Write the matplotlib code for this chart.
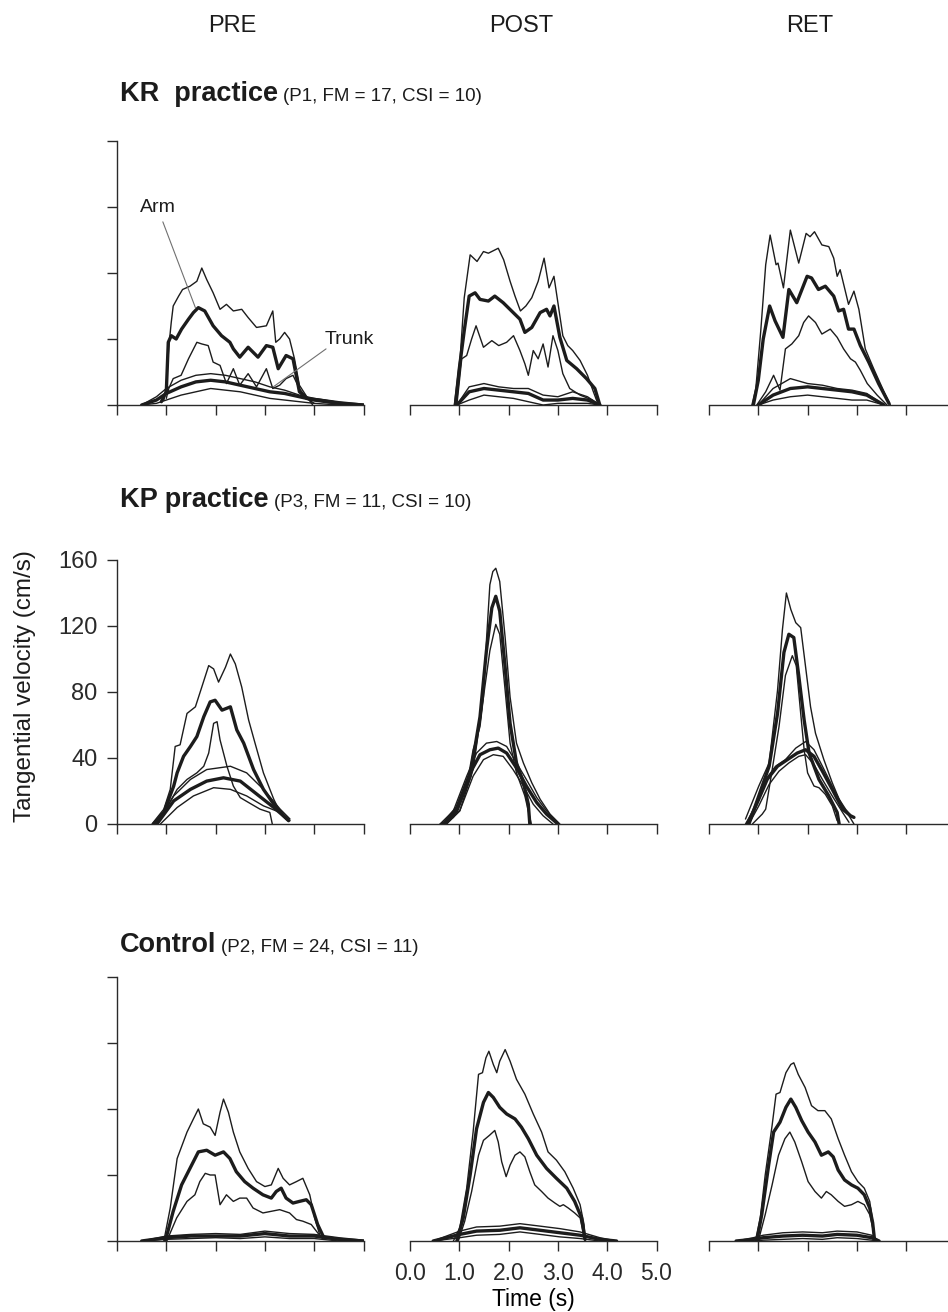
"""
velocity_profiles.py
--------------------
Arm / trunk tangential velocity profiles (mean +/- SD) for three
participants at PRE, POST and RET.
"""

import matplotlib as mpl
mpl.use('Agg')
import matplotlib.pyplot as plt

C_LINE = '#1c1c1c'
C_AXIS = '#2a2a2a'
C_NOTE = '#707070'
LW_MEAN = 2.4
LW_SD = 1.0

# ── 1. Data (time in s, velocity in cm/s) ────────────────────────────────────
# KR practice – PRE
kr_pre_arm_hi_t = [0.95, 1.0, 1.05, 1.1, 1.14, 1.25, 1.33, 1.48, 1.62, 1.72, 1.82, 1.95, 2.09, 2.22,
                   2.36, 2.53, 2.66, 2.83, 3.03, 3.16, 3.22, 3.3, 3.4, 3.5, 3.6, 3.7, 3.85, 3.97]
kr_pre_arm_hi_v = [3, 12, 35, 50, 60, 66, 70, 72, 75, 83, 76, 68, 58, 61,
                   57, 58, 53, 47, 48, 57, 38, 40, 44, 40, 28, 12, 5, 0]
kr_pre_arm_mean_t = [0.9, 1.0, 1.04, 1.1, 1.2, 1.31, 1.45, 1.55, 1.65, 1.78, 1.95, 2.12, 2.29,
                     2.36, 2.49, 2.66, 2.86, 3.03, 3.16, 3.27, 3.43, 3.57, 3.7, 3.85, 4.1, 4.5]
kr_pre_arm_mean_v = [2, 8, 38, 42, 40, 46, 52, 56, 59, 57, 48, 42, 38,
                     34, 29, 35, 29, 36, 35, 22, 30, 28, 8, 4, 3, 1]
kr_pre_arm_lo_t = [1.0, 1.05, 1.14, 1.3, 1.45, 1.62, 1.72, 1.85, 1.95, 2.09, 2.22, 2.36, 2.49,
                   2.66, 2.83, 3.03, 3.16, 3.3, 3.43, 3.57, 3.7, 3.85, 4.0]
kr_pre_arm_lo_v = [4, 10, 16, 18, 28, 38, 37, 36, 26, 24, 13, 22, 12,
                   19, 11, 22, 10, 12, 16, 18, 10, 4, 1]
kr_pre_trunk_t = [0.5, 0.8, 1.0, 1.3, 1.6, 1.9, 2.2, 2.5, 2.8, 3.1, 3.4, 3.7, 4.0, 4.5, 5.0]
kr_pre_trunk_mean_v = [0, 3, 7, 11, 14, 15, 14, 12, 10, 8, 7, 5, 3, 1, 0]
kr_pre_trunk_hi_v = [0, 5, 10, 15, 18, 19, 18, 16, 14, 11, 9, 6, 4, 2, 0.5]
kr_pre_trunk_lo_v = [0, 1, 3, 6, 8, 10, 9, 8, 6, 4, 3, 2, 1, 0, 0]

# KR practice – POST
kr_post_arm_hi_t = [0.9, 0.98, 1.02, 1.1, 1.22, 1.36, 1.49, 1.59, 1.79, 1.9, 2.03, 2.13, 2.24, 2.35,
                    2.47, 2.6, 2.72, 2.82, 2.92, 3.0, 3.1, 3.2, 3.3, 3.45, 3.6, 3.72, 3.82]
kr_post_arm_hi_v = [0, 20, 30, 65, 91, 87, 93, 92, 95, 88, 75, 66, 57, 60,
                    65, 75, 89, 71, 78, 62, 42, 36, 33, 27, 18, 8, 0]
kr_post_arm_mean_t = [0.92, 1.0, 1.1, 1.2, 1.32, 1.42, 1.59, 1.72, 1.89, 2.06, 2.23, 2.33,
                      2.47, 2.64, 2.77, 2.84, 2.92, 3.04, 3.18, 3.38, 3.58, 3.75, 3.85]
kr_post_arm_mean_v = [0, 22, 45, 66, 68, 64, 63, 66, 62, 57, 52, 44,
                      47, 56, 58, 54, 60, 41, 27, 22, 16, 10, 0]
kr_post_arm_lo_t = [0.95, 1.05, 1.15, 1.25, 1.34, 1.49, 1.66, 1.8, 1.96, 2.1, 2.23, 2.33, 2.4,
                    2.5, 2.6, 2.7, 2.8, 2.9, 3.0, 3.1, 3.24, 3.45, 3.7, 3.85]
kr_post_arm_lo_v = [0, 28, 30, 40, 48, 35, 39, 36, 38, 42, 33, 25, 18,
                    33, 28, 37, 23, 42, 33, 19, 10, 6, 3, 0]
kr_post_trunk_t = [0.95, 1.2, 1.5, 1.8, 2.1, 2.4, 2.7, 3.0, 3.3, 3.6, 3.85]
kr_post_trunk_mean_v = [0, 8, 10, 9, 8, 7, 3, 3, 4, 3, 0]
kr_post_trunk_hi_v = [0, 11, 13, 11, 10, 10, 6, 5, 8, 5, 0]
kr_post_trunk_lo_v = [0, 3, 6, 5, 4, 2, 0, 1, 1, 1, 0]

# KR practice – RET
kr_ret_arm_hi_t = [0.87, 0.95, 1.05, 1.15, 1.24, 1.36, 1.4, 1.51, 1.65, 1.82, 1.97, 2.05, 2.14,
                   2.29, 2.43, 2.53, 2.6, 2.66, 2.83, 2.94, 3.04, 3.17, 3.34, 3.55, 3.68]
kr_ret_arm_hi_v = [0, 10, 45, 85, 103, 85, 86, 71, 106, 86, 104, 102, 105,
                   97, 96, 89, 78, 82, 61, 69, 58, 34, 22, 8, 0]
kr_ret_arm_mean_t = [0.9, 1.0, 1.1, 1.23, 1.34, 1.5, 1.62, 1.78, 1.99, 2.08, 2.22, 2.36, 2.53,
                     2.63, 2.73, 2.83, 2.94, 3.07, 3.24, 3.44, 3.65]
kr_ret_arm_mean_v = [0, 15, 40, 60, 51, 41, 70, 62, 78, 77, 70, 72, 66,
                     57, 58, 46, 46, 36, 26, 13, 1]
kr_ret_arm_lo_t = [0.97, 1.15, 1.31, 1.44, 1.55, 1.68, 1.82, 1.92, 2.02, 2.16, 2.29, 2.46, 2.6,
                   2.73, 2.87, 2.97, 3.07, 3.21, 3.41, 3.61]
kr_ret_arm_lo_v = [0, 8, 18, 9, 34, 37, 42, 50, 54, 50, 43, 46, 41,
                   34, 28, 26, 21, 13, 6, 0]
kr_ret_trunk_t = [1.0, 1.3, 1.65, 2.0, 2.3, 2.6, 2.9, 3.2, 3.55]
kr_ret_trunk_mean_v = [0, 6, 10, 11, 10, 9, 8, 6, 0]
kr_ret_trunk_hi_v = [0, 10, 16, 13, 12, 10, 9, 7, 0]
kr_ret_trunk_lo_v = [0, 3, 5, 6, 5, 4, 3, 3, 0]

# KP practice – PRE
kp_pre_arm_hi_t = [0.71, 0.95, 1.08, 1.18, 1.28, 1.42, 1.59, 1.72, 1.86, 1.96, 2.06, 2.2, 2.3,
                   2.4, 2.53, 2.67, 2.8, 2.97, 3.18, 3.31, 3.45]
kp_pre_arm_hi_v = [0, 9, 21, 47, 48, 67, 71, 83, 96, 94, 86, 95, 103,
                   97, 83, 63, 49, 31, 15, 7, 3]
kp_pre_arm_mean_t = [0.74, 0.95, 1.15, 1.22, 1.35, 1.49, 1.62, 1.76, 1.89, 1.99, 2.13, 2.3,
                     2.43, 2.57, 2.77, 2.97, 3.18, 3.38, 3.48]
kp_pre_arm_mean_v = [0, 7, 23, 31, 41, 47, 53, 65, 74, 75, 69, 71,
                     57, 49, 33, 21, 12, 5, 2]
kp_pre_arm_lo_t = [0.81, 1.01, 1.22, 1.42, 1.62, 1.76, 1.86, 1.96, 2.03, 2.09, 2.23, 2.36,
                   2.5, 2.67, 2.9, 3.1, 3.15]
kp_pre_arm_lo_v = [0, 10, 21, 27, 31, 35, 43, 61, 62, 51, 35, 23,
                   16, 13, 9, 7, 0]
kp_pre_trunk_hi_t = [0.81, 1.15, 1.49, 1.82, 2.3, 2.63, 2.97, 3.31, 3.51]
kp_pre_trunk_hi_v = [0, 17, 27, 33, 35, 31, 21, 9, 3]
kp_pre_trunk_mean_t = [0.81, 1.15, 1.49, 1.82, 2.16, 2.5, 2.84, 3.18, 3.45]
kp_pre_trunk_mean_v = [0, 14, 21, 26, 28, 26, 18, 10, 3]
kp_pre_trunk_lo_t = [0.88, 1.22, 1.55, 1.96, 2.3, 2.63, 2.97, 3.31, 3.51]
kp_pre_trunk_lo_v = [0, 10, 17, 22, 21, 17, 11, 7, 2]

# KP practice – POST
kp_post_arm_hi_t = [0.61, 0.88, 1.15, 1.28, 1.42, 1.49, 1.55, 1.62, 1.68, 1.74, 1.82, 1.93, 2.03,
                    2.16, 2.3, 2.47, 2.64, 2.84, 3.04]
kp_post_arm_hi_v = [0, 4, 23, 45, 59, 77, 111, 145, 153, 155, 147, 113, 77,
                    49, 37, 25, 15, 6, 0]
kp_post_arm_mean_t = [0.68, 0.95, 1.22, 1.42, 1.55, 1.66, 1.74, 1.82, 1.93, 2.03, 2.16, 2.3,
                      2.4, 2.43]
kp_post_arm_mean_v = [0, 8, 29, 65, 105, 131, 138, 129, 95, 61, 37, 25, 12, 0]
kp_post_arm_lo_t = [0.74, 1.01, 1.28, 1.49, 1.62, 1.74, 1.82, 1.93, 2.03, 2.16, 2.33, 2.43, 2.46]
kp_post_arm_lo_v = [0, 8, 33, 77, 105, 121, 115, 81, 49, 31, 17, 4, 0]
kp_post_trunk_hi_t = [0.61, 0.88, 1.15, 1.35, 1.55, 1.76, 1.96, 2.16, 2.36, 2.57, 2.77, 2.97]
kp_post_trunk_hi_v = [0, 8, 29, 43, 49, 50, 47, 37, 27, 16, 8, 1]
kp_post_trunk_mean_t = [0.68, 0.95, 1.22, 1.42, 1.62, 1.79, 1.96, 2.16, 2.36, 2.57, 2.77, 3.0]
kp_post_trunk_mean_v = [0, 10, 31, 42, 45, 46, 43, 34, 23, 13, 6, 0]
kp_post_trunk_lo_t = [0.74, 1.01, 1.28, 1.49, 1.69, 1.89, 2.09, 2.3, 2.5, 2.7, 2.9]
kp_post_trunk_lo_v = [0, 8, 29, 39, 42, 41, 33, 23, 12, 5, 0]

# KP practice – RET
kp_ret_arm_hi_t = [0.74, 1.01, 1.22, 1.39, 1.49, 1.57, 1.66, 1.76, 1.86, 1.96, 2.06, 2.16, 2.33,
                   2.5, 2.64, 2.77, 2.91]
kp_ret_arm_hi_v = [3, 23, 37, 81, 118, 140, 130, 122, 119, 95, 71, 55, 39,
                   25, 15, 9, 4]
kp_ret_arm_mean_t = [0.81, 1.01, 1.22, 1.39, 1.52, 1.62, 1.72, 1.82, 1.93, 2.03, 2.23, 2.43,
                     2.6, 2.64]
kp_ret_arm_mean_v = [0, 17, 35, 67, 104, 115, 113, 90, 63, 43, 27, 17, 7, 0]
kp_ret_arm_lo_t = [0.88, 1.08, 1.15, 1.25, 1.42, 1.55, 1.69, 1.77, 1.86, 1.93, 2.0, 2.13, 2.23,
                   2.36, 2.5, 2.6]
kp_ret_arm_lo_v = [0, 6, 9, 27, 59, 90, 102, 96, 67, 45, 31, 23, 22,
                   18, 11, 2]
kp_ret_trunk_hi_t = [0.74, 0.95, 1.15, 1.35, 1.55, 1.76, 1.96, 2.13, 2.3, 2.5, 2.71, 2.84, 2.94]
kp_ret_trunk_hi_v = [0, 11, 27, 35, 39, 46, 50, 45, 35, 23, 11, 5, 0]
kp_ret_trunk_mean_t = [0.78, 0.98, 1.18, 1.39, 1.59, 1.79, 1.96, 2.13, 2.3, 2.5, 2.71, 2.87, 2.94]
kp_ret_trunk_mean_v = [0, 13, 27, 35, 39, 43, 45, 41, 32, 21, 9, 5, 4]
kp_ret_trunk_lo_t = [0.81, 1.01, 1.22, 1.42, 1.62, 1.82, 1.96, 2.13, 2.3, 2.5, 2.71, 2.84]
kp_ret_trunk_lo_v = [0, 11, 24, 32, 37, 41, 42, 36, 27, 17, 7, 1]

# Control – PRE
ct_pre_arm_hi_t = [0.95, 1.08, 1.22, 1.42, 1.55, 1.65, 1.75, 1.89, 1.99, 2.09, 2.16, 2.26, 2.36,
                   2.49, 2.66, 2.83, 3.0, 3.13, 3.27, 3.37, 3.5, 3.64, 3.77, 3.91, 4.01, 4.11]
ct_pre_arm_hi_v = [0, 20, 50, 66, 74, 80, 71, 69, 64, 78, 86, 78, 66,
                   54, 44, 36, 33, 34, 44, 38, 34, 36, 38, 28, 14, 4]
ct_pre_arm_mean_t = [0.98, 1.14, 1.31, 1.48, 1.65, 1.82, 1.99, 2.16, 2.29, 2.42, 2.59, 2.76,
                     2.96, 3.13, 3.23, 3.33, 3.43, 3.57, 3.7, 3.84, 3.94, 4.07, 4.18]
ct_pre_arm_mean_v = [0, 18, 34, 44, 54, 55, 52, 54, 50, 42, 36, 32,
                     28, 26, 30, 32, 26, 23, 24, 25, 22, 10, 3]
ct_pre_arm_lo_t = [1.01, 1.21, 1.42, 1.58, 1.68, 1.79, 1.89, 1.99, 2.09, 2.22, 2.36, 2.49,
                   2.63, 2.76, 2.96, 3.13, 3.3, 3.5, 3.64, 3.77, 3.94, 4.07, 4.18]
ct_pre_arm_lo_v = [0, 14, 24, 28, 36, 41, 40, 40, 22, 28, 24, 26,
                   26, 20, 17, 18, 19, 17, 13, 12, 10, 5, 1]
ct_pre_trunk_t = [0.5, 1.0, 1.5, 2.0, 2.5, 3.0, 3.5, 4.0, 4.5, 5.0]
ct_pre_trunk_mean_v = [0, 2, 3, 3, 3, 4.5, 3, 3, 1, 0]
ct_pre_trunk_hi_v = [0, 3, 4, 4.5, 4, 6, 4.5, 4, 2, 0.5]
ct_pre_trunk_lo_v = [0, 1, 1.5, 2, 1.5, 2.5, 1.5, 1.5, 0, 0]

# Control – POST
ct_post_arm_hi_t = [0.88, 1.01, 1.15, 1.28, 1.39, 1.47, 1.54, 1.6, 1.69, 1.76, 1.82, 1.93, 2.03,
                    2.16, 2.33, 2.5, 2.67, 2.8, 2.97, 3.14, 3.31, 3.45, 3.53, 3.56]
ct_post_arm_hi_v = [0, 8, 32, 66, 101, 102, 111, 115, 107, 102, 109, 116, 109,
                    98, 89, 77, 66, 54, 49, 42, 32, 22, 10, 0]
ct_post_arm_mean_t = [0.95, 1.08, 1.22, 1.35, 1.49, 1.59, 1.69, 1.82, 1.96, 2.13, 2.26, 2.4,
                      2.57, 2.77, 2.97, 3.18, 3.34, 3.48, 3.55]
ct_post_arm_mean_v = [0, 14, 40, 68, 84, 90, 87, 81, 77, 74, 69, 62,
                      52, 44, 38, 32, 24, 14, 1]
ct_post_arm_lo_t = [0.98, 1.11, 1.25, 1.39, 1.49, 1.61, 1.72, 1.79, 1.86, 1.95, 2.03, 2.13, 2.23,
                    2.33, 2.43, 2.53, 2.67, 2.8, 2.94, 3.04, 3.11, 3.21, 3.34, 3.45, 3.55]
ct_post_arm_lo_v = [0, 12, 30, 52, 61, 64, 67, 60, 48, 39, 46, 52, 54,
                    51, 42, 34, 30, 26, 23, 21, 22, 20, 17, 14, 0]
ct_post_trunk_t = [0.47, 0.74, 1.01, 1.35, 1.82, 2.23, 2.64, 3.04, 3.45, 3.85, 4.19]
ct_post_trunk_mean_v = [0, 2, 4, 6, 6.5, 8, 6.5, 5, 3.5, 1, 0]
ct_post_trunk_hi_v = [0, 3, 6, 8.5, 9, 10.5, 9, 7.5, 5.5, 2, 0]
ct_post_trunk_lo_v = [0, 1, 2, 3.5, 4, 5.5, 4, 2.5, 1.5, 0, 0]

# Control – RET
ct_ret_arm_hi_t = [0.94, 1.04, 1.14, 1.28, 1.36, 1.44, 1.56, 1.66, 1.72, 1.81, 1.95, 2.08, 2.21,
                   2.35, 2.48, 2.62, 2.75, 2.89, 3.02, 3.15, 3.26, 3.32, 3.36]
ct_ret_arm_hi_v = [0, 14, 40, 70, 89, 90, 102, 107, 108, 101, 93, 82, 79,
                   79, 74, 62, 52, 42, 36, 32, 24, 12, 1]
ct_ret_arm_mean_t = [0.97, 1.07, 1.21, 1.31, 1.44, 1.56, 1.66, 1.76, 1.88, 2.01, 2.15, 2.28,
                     2.42, 2.52, 2.62, 2.75, 2.89, 3.02, 3.15, 3.26, 3.32, 3.36]
ct_ret_arm_mean_v = [0, 16, 46, 66, 72, 81, 86, 81, 73, 66, 60, 52,
                     54, 51, 43, 37, 34, 32, 28, 20, 11, 0]
ct_ret_arm_lo_t = [1.0, 1.14, 1.28, 1.41, 1.54, 1.64, 1.74, 1.88, 2.01, 2.15, 2.28, 2.38, 2.48,
                   2.62, 2.75, 2.89, 3.02, 3.15, 3.26, 3.32, 3.36]
ct_ret_arm_lo_v = [0, 16, 34, 52, 62, 66, 60, 48, 36, 30, 26, 30, 28,
                   24, 21, 22, 24, 22, 16, 8, 0]
ct_ret_trunk_t = [0.55, 0.9, 1.1, 1.5, 1.9, 2.3, 2.6, 3.0, 3.3, 3.45]
ct_ret_trunk_mean_v = [0, 1, 2, 3, 3.5, 3, 4, 3.5, 2, 0]
ct_ret_trunk_hi_v = [0, 2, 3.5, 5, 5.5, 5, 6, 5.5, 3.5, 0]
ct_ret_trunk_lo_v = [0, 0, 0.5, 1, 1.5, 1, 2, 1.5, 0.5, 0]

SESSIONS = ['PRE', 'POST', 'RET']
GROUPS = ['KR  practice', 'KP practice', 'Control']
GROUP_INFO = ['(P1, FM = 17, CSI = 10)', '(P3, FM = 11, CSI = 10)', '(P2, FM = 24, CSI = 11)']
Y_TICKS = [0, 40, 80, 120, 160]
X_TICKS = [0, 1, 2, 3, 4, 5]
X_TICKLABELS = ['0.0', '1.0', '2.0', '3.0', '4.0', '5.0']

# (t, v, is_mean) per panel, rows = groups, cols = sessions
PANELS = [
    [
        [(kr_pre_arm_hi_t, kr_pre_arm_hi_v, False), (kr_pre_arm_mean_t, kr_pre_arm_mean_v, True),
         (kr_pre_arm_lo_t, kr_pre_arm_lo_v, False), (kr_pre_trunk_t, kr_pre_trunk_hi_v, False),
         (kr_pre_trunk_t, kr_pre_trunk_mean_v, True), (kr_pre_trunk_t, kr_pre_trunk_lo_v, False)],
        [(kr_post_arm_hi_t, kr_post_arm_hi_v, False), (kr_post_arm_mean_t, kr_post_arm_mean_v, True),
         (kr_post_arm_lo_t, kr_post_arm_lo_v, False), (kr_post_trunk_t, kr_post_trunk_hi_v, False),
         (kr_post_trunk_t, kr_post_trunk_mean_v, True), (kr_post_trunk_t, kr_post_trunk_lo_v, False)],
        [(kr_ret_arm_hi_t, kr_ret_arm_hi_v, False), (kr_ret_arm_mean_t, kr_ret_arm_mean_v, True),
         (kr_ret_arm_lo_t, kr_ret_arm_lo_v, False), (kr_ret_trunk_t, kr_ret_trunk_hi_v, False),
         (kr_ret_trunk_t, kr_ret_trunk_mean_v, True), (kr_ret_trunk_t, kr_ret_trunk_lo_v, False)],
    ],
    [
        [(kp_pre_arm_hi_t, kp_pre_arm_hi_v, False), (kp_pre_arm_mean_t, kp_pre_arm_mean_v, True),
         (kp_pre_arm_lo_t, kp_pre_arm_lo_v, False), (kp_pre_trunk_hi_t, kp_pre_trunk_hi_v, False),
         (kp_pre_trunk_mean_t, kp_pre_trunk_mean_v, True), (kp_pre_trunk_lo_t, kp_pre_trunk_lo_v, False)],
        [(kp_post_arm_hi_t, kp_post_arm_hi_v, False), (kp_post_arm_mean_t, kp_post_arm_mean_v, True),
         (kp_post_arm_lo_t, kp_post_arm_lo_v, False), (kp_post_trunk_hi_t, kp_post_trunk_hi_v, False),
         (kp_post_trunk_mean_t, kp_post_trunk_mean_v, True), (kp_post_trunk_lo_t, kp_post_trunk_lo_v, False)],
        [(kp_ret_arm_hi_t, kp_ret_arm_hi_v, False), (kp_ret_arm_mean_t, kp_ret_arm_mean_v, True),
         (kp_ret_arm_lo_t, kp_ret_arm_lo_v, False), (kp_ret_trunk_hi_t, kp_ret_trunk_hi_v, False),
         (kp_ret_trunk_mean_t, kp_ret_trunk_mean_v, True), (kp_ret_trunk_lo_t, kp_ret_trunk_lo_v, False)],
    ],
    [
        [(ct_pre_arm_hi_t, ct_pre_arm_hi_v, False), (ct_pre_arm_mean_t, ct_pre_arm_mean_v, True),
         (ct_pre_arm_lo_t, ct_pre_arm_lo_v, False), (ct_pre_trunk_t, ct_pre_trunk_hi_v, False),
         (ct_pre_trunk_t, ct_pre_trunk_mean_v, True), (ct_pre_trunk_t, ct_pre_trunk_lo_v, False)],
        [(ct_post_arm_hi_t, ct_post_arm_hi_v, False), (ct_post_arm_mean_t, ct_post_arm_mean_v, True),
         (ct_post_arm_lo_t, ct_post_arm_lo_v, False), (ct_post_trunk_t, ct_post_trunk_hi_v, False),
         (ct_post_trunk_t, ct_post_trunk_mean_v, True), (ct_post_trunk_t, ct_post_trunk_lo_v, False)],
        [(ct_ret_arm_hi_t, ct_ret_arm_hi_v, False), (ct_ret_arm_mean_t, ct_ret_arm_mean_v, True),
         (ct_ret_arm_lo_t, ct_ret_arm_lo_v, False), (ct_ret_trunk_t, ct_ret_trunk_hi_v, False),
         (ct_ret_trunk_t, ct_ret_trunk_mean_v, True), (ct_ret_trunk_t, ct_ret_trunk_lo_v, False)],
    ],
]


# ── 2. Style ──────────────────────────────────────────────────────────────────
mpl.rcParams.update({
    'font.family':      'Liberation Sans',
    'axes.linewidth':    1.0,
    'axes.edgecolor':    C_AXIS,
    'xtick.color':       C_AXIS,
    'ytick.color':       C_AXIS,
    'xtick.direction':  'out',
    'ytick.direction':  'out',
})

FIG_W, FIG_H = 948, 1312              # pixels at dpi 100
COL_ZERO = [117, 410, 709]            # x of t = 0 per column (px)
COL_TITLE_X = [232, 521, 810]         # centres of PRE / POST / RET
ROW_ZERO = [405, 824, 1241]           # y of v = 0 per row (px)
PANEL_W, PANEL_H = 246.5, 264
TITLE_BASE = [101, 507, 952]          # baseline of the group titles (px)

fig = plt.figure(figsize=(FIG_W / 100, FIG_H / 100), dpi=100)


# ── 3. Panels ─────────────────────────────────────────────────────────────────
axes = {}
for r in range(3):
    for c in range(3):
        ax = fig.add_axes([COL_ZERO[c] / FIG_W, (FIG_H - ROW_ZERO[r]) / FIG_H,
                           PANEL_W / FIG_W, PANEL_H / FIG_H])
        for t, v, is_mean in PANELS[r][c]:
            ax.plot(t, v, color=C_LINE, lw=LW_MEAN if is_mean else LW_SD,
                    solid_joinstyle='round', solid_capstyle='round', zorder=3 if is_mean else 2)

        ax.set_xlim(0, 5)
        ax.set_ylim(0, 160)
        ax.set_facecolor('none')
        ax.spines['top'].set_visible(False)
        ax.spines['right'].set_visible(False)
        ax.set_xticks(X_TICKS)
        ax.tick_params(axis='x', length=7, width=1.0, pad=8, labelsize=16.5)
        ax.tick_params(axis='y', length=7, width=1.0, pad=7, labelsize=17)

        if c == 0:
            ax.set_yticks(Y_TICKS)
            if r != 1:
                ax.set_yticklabels([])
        else:
            ax.spines['left'].set_visible(False)
            ax.set_yticks([])

        if r == 2 and c == 1:
            ax.set_xticklabels(X_TICKLABELS)
            ax.set_xlabel('Time (s)', fontsize=16.5, labelpad=2)
        else:
            ax.set_xticklabels([])
        axes[(r, c)] = ax


# ── 4. Text ───────────────────────────────────────────────────────────────────
for c, name in enumerate(SESSIONS):
    fig.text(COL_TITLE_X[c] / FIG_W, 1 - 32 / FIG_H, name,
             ha='center', va='baseline', fontsize=17, color=C_LINE)

renderer = fig.canvas.get_renderer()
for r in range(3):
    yf = 1 - TITLE_BASE[r] / FIG_H
    t1 = fig.text(120 / FIG_W, yf, GROUPS[r], ha='left', va='baseline',
                  fontsize=19.5, fontweight='bold', color=C_LINE)
    bb = t1.get_window_extent(renderer=renderer)
    fig.text((bb.x1 + 5) / FIG_W, yf, GROUP_INFO[r], ha='left', va='baseline',
             fontsize=13.5, color=C_LINE)

fig.text(25 / FIG_W, 1 - 686 / FIG_H, 'Tangential velocity (cm/s)',
         rotation=90, ha='center', va='center', fontsize=17.5, color=C_LINE)

# Arm / Trunk labels on the first panel
ax = axes[(0, 0)]
ax.text(0.83, 120, 'Arm', ha='center', va='center', fontsize=14, color=C_LINE)
ax.annotate('', xy=(1.59, 59), xytext=(0.93, 111),
            arrowprops=dict(arrowstyle='-', color=C_NOTE, lw=0.8, shrinkA=0, shrinkB=0))
ax.text(4.22, 40, 'Trunk', ha='left', va='center', fontsize=14, color=C_LINE)
ax.annotate('', xy=(3.17, 11), xytext=(4.24, 34),
            arrowprops=dict(arrowstyle='-', color=C_NOTE, lw=0.8, shrinkA=0, shrinkB=0))


# ── 5. Save ───────────────────────────────────────────────────────────────────
fig.savefig('out.png', dpi=100)
print('Saved out.png')
